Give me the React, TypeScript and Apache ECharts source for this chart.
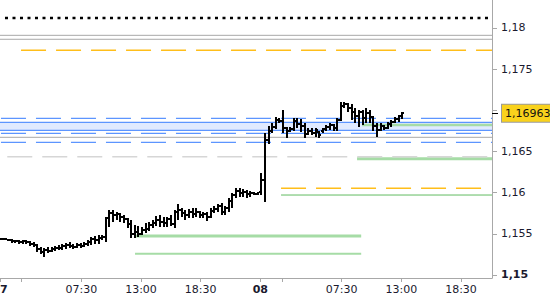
import React, { useEffect, useRef } from 'react';
import * as echarts from 'echarts';

// ---- bar data (20-minute OHLC bars, starting 07 00:00) ----
const barStepHours = 1 / 3;
const opens = [1.15447,1.15435,1.15435,1.15422,1.15410,1.15416,1.15398,1.15410,1.15398,1.15374,1.15362,1.15313,1.15277,1.15301,1.15289,1.15313,1.15325,1.15331,1.15350,1.15362,1.15350,1.15337,1.15362,1.15350,1.15374,1.15398,1.15435,1.15422,1.15447,1.15459,1.15689,1.15750,1.15726,1.15738,1.15701,1.15677,1.15617,1.15495,1.15519,1.15495,1.15544,1.15556,1.15604,1.15629,1.15665,1.15641,1.15629,1.15677,1.15617,1.15762,1.15786,1.15750,1.15726,1.15762,1.15738,1.15762,1.15726,1.15738,1.15701,1.15774,1.15799,1.15835,1.15762,1.15811,1.15896,1.15968,1.16017,1.15993,1.16005,1.15981,1.15993,1.15981,1.16005,1.16150,1.16636,1.16745,1.16794,1.16879,1.16867,1.16782,1.16745,1.16770,1.16867,1.16830,1.16806,1.16709,1.16745,1.16721,1.16733,1.16745,1.16770,1.16794,1.16818,1.16782,1.16879,1.17049,1.17073,1.17024,1.16976,1.16927,1.16976,1.16903,1.16964,1.16915,1.16806,1.16757,1.16806,1.16782,1.16830,1.16855,1.16891,1.16927];
const closes = [1.15435,1.15441,1.15422,1.15410,1.15416,1.15398,1.15410,1.15398,1.15374,1.15362,1.15313,1.15277,1.15301,1.15289,1.15313,1.15325,1.15331,1.15350,1.15362,1.15350,1.15337,1.15362,1.15350,1.15374,1.15398,1.15435,1.15422,1.15447,1.15459,1.15689,1.15750,1.15726,1.15738,1.15701,1.15677,1.15617,1.15495,1.15519,1.15495,1.15544,1.15556,1.15604,1.15629,1.15665,1.15641,1.15629,1.15677,1.15617,1.15762,1.15786,1.15750,1.15726,1.15762,1.15738,1.15762,1.15726,1.15738,1.15701,1.15774,1.15799,1.15835,1.15762,1.15811,1.15896,1.15968,1.16017,1.15993,1.16005,1.15981,1.15993,1.15981,1.16005,1.16150,1.16636,1.16745,1.16794,1.16879,1.16867,1.16782,1.16745,1.16770,1.16867,1.16830,1.16806,1.16709,1.16745,1.16721,1.16757,1.16697,1.16770,1.16794,1.16818,1.16782,1.16879,1.17049,1.17073,1.17024,1.16976,1.16927,1.16976,1.16903,1.16964,1.16915,1.16806,1.16757,1.16806,1.16782,1.16830,1.16855,1.16891,1.16927,1.16963];
const lows = [1.15422,1.15422,1.15410,1.15392,1.15386,1.15380,1.15374,1.15374,1.15356,1.15337,1.15283,1.15252,1.15222,1.15265,1.15277,1.15289,1.15301,1.15307,1.15313,1.15325,1.15313,1.15325,1.15331,1.15337,1.15350,1.15362,1.15374,1.15374,1.15422,1.15404,1.15586,1.15641,1.15665,1.15647,1.15629,1.15568,1.15447,1.15447,1.15459,1.15483,1.15507,1.15538,1.15574,1.15592,1.15586,1.15580,1.15586,1.15592,1.15574,1.15665,1.15701,1.15665,1.15689,1.15689,1.15708,1.15689,1.15689,1.15653,1.15695,1.15750,1.15768,1.15726,1.15726,1.15768,1.15811,1.15932,1.15944,1.15944,1.15932,1.15944,1.15968,1.15975,1.15968,1.15890,1.16587,1.16721,1.16776,1.16843,1.16721,1.16660,1.16739,1.16745,1.16782,1.16739,1.16666,1.16703,1.16697,1.16679,1.16660,1.16721,1.16745,1.16757,1.16745,1.16745,1.16873,1.17024,1.16976,1.16879,1.16843,1.16800,1.16818,1.16843,1.16843,1.16745,1.16679,1.16751,1.16757,1.16776,1.16794,1.16843,1.16855,1.16897];
const highs = [1.15453,1.15447,1.15441,1.15435,1.15422,1.15422,1.15422,1.15428,1.15410,1.15398,1.15374,1.15337,1.15325,1.15337,1.15344,1.15350,1.15362,1.15374,1.15386,1.15398,1.15374,1.15386,1.15386,1.15398,1.15422,1.15459,1.15471,1.15483,1.15483,1.15708,1.15786,1.15786,1.15768,1.15750,1.15726,1.15689,1.15665,1.15604,1.15592,1.15586,1.15629,1.15647,1.15665,1.15714,1.15726,1.15701,1.15708,1.15726,1.15786,1.15859,1.15811,1.15786,1.15799,1.15811,1.15811,1.15774,1.15762,1.15768,1.15811,1.15835,1.15859,1.15871,1.15835,1.15932,1.15993,1.16059,1.16053,1.16041,1.16029,1.16017,1.16005,1.16011,1.16235,1.16721,1.16806,1.16843,1.16921,1.16903,1.17000,1.16800,1.16794,1.16903,1.16903,1.16891,1.16843,1.16782,1.16782,1.16782,1.16745,1.16782,1.16818,1.16843,1.16830,1.16903,1.17103,1.17103,1.17085,1.17073,1.17024,1.17000,1.17000,1.17024,1.17000,1.16927,1.16843,1.16843,1.16818,1.16855,1.16879,1.16915,1.16939,1.16982];

const lastPrice = 1.16963;

// ---- axes ----
const xMin = 0;
const xMax = 45.36;
const yMin = 1.14963;
const yMax = 1.1834;
const xTickHours = [0, 2, 7.5, 13, 18.5, 24, 26, 31.5, 37, 42.5];
const xLabelHours = [0, 7.5, 13, 18.5, 24, 31.5, 37, 42.5];
const dayNames = ['07', '08'];
const yTickValues = [1.15, 1.155, 1.16, 1.165, 1.17, 1.175, 1.18];
const yLabelValues = [1.15, 1.155, 1.16, 1.165, 1.175, 1.18];
const boldYLabels = [1.15];

// ---- horizontal levels ----
const levelPrice = [1.18121, 1.17911, 1.17863, 1.17729, 1.16903, 1.16854, 1.16757, 1.16721, 1.16672, 1.16611, 1.16821, 1.16411, 1.16436, 1.16053, 1.15971, 1.15473, 1.15258];
const levelFrom = [0.46, 0, 0, 1.94, 0.09, 0, 0, 0.09, 0, 0.09, 33.38, 32.92, 0.67, 25.91, 25.91, 12.45, 12.45];
const levelTo = [44.99, 45.36, 45.36, 45.36, 45.36, 45.36, 45.36, 45.36, 45.36, 45.36, 45.36, 45.36, 45.36, 44.35, 45.36, 33.3, 33.3];
const zoneTop = 1.16854;
const zoneBottom = 1.16757;

const BLUE = '#5c95ff';
const GRAY = '#a8a8a8';
const ORANGE = '#ffbe1a';
const LGREEN = '#a6dca6';
const levelStyles: any[] = [
  { color: '#000', width: 2.5, type: [3, 4.5] },
  { color: GRAY, width: 1 },
  { color: GRAY, width: 1 },
  { color: ORANGE, width: 1.5, type: [25, 10] },
  { color: BLUE, width: 1.2, type: [25, 10] },
  { color: BLUE, width: 1.2 },
  { color: BLUE, width: 1.2 },
  { color: BLUE, width: 1.2, type: [25, 10] },
  { color: GRAY, width: 1 },
  { color: BLUE, width: 1.2, type: [25, 10] },
  { color: LGREEN, width: 2.5 },
  { color: LGREEN, width: 3 },
  { color: '#d6d6d6', width: 1.5, type: [25, 10] },
  { color: ORANGE, width: 1.5, type: [25, 10] },
  { color: '#62bb62', width: 1 },
  { color: LGREEN, width: 3 },
  { color: LGREEN, width: 2 },
];

const FONT = 'DejaVu Sans';
const TEXT = '#1a1a2e';

function fmtHour(v: number): string {
  const r = Math.round(v * 100) / 100;
  if (Math.abs(r % 24) < 1e-6) return '{b|' + dayNames[Math.round(r / 24)] + '}';
  const h = r % 24;
  const hh = Math.floor(h);
  const mm = Math.round((h - hh) * 60);
  return String(hh).padStart(2, '0') + ':' + String(mm).padStart(2, '0');
}

function fmtPrice(v: number): string {
  const s = String(+v.toFixed(4)).replace('.', ',');
  if (boldYLabels.some((b) => Math.abs(b - v) < 1e-7)) return '{b|' + s + '}';
  return s;
}

export default function App() {
  const ref = useRef<HTMLDivElement>(null);
  useEffect(() => {
    document.body.style.margin = '0';
    if (!ref.current) return;
    const chart = echarts.init(ref.current, undefined, { renderer: 'svg' });
    const bars = opens.map((o, i) => [i * barStepHours, o, closes[i], lows[i], highs[i]]);

    const levelSeries = levelPrice.map((p, i) => ({
      type: 'line',
      data: [[levelFrom[i], p], [levelTo[i], p]],
      symbol: 'none',
      silent: true,
      animation: false,
      lineStyle: levelStyles[i],
      z: 2,
      ...(i === 0
        ? {
            markArea: {
              silent: true,
              itemStyle: { color: '#e0eaff' },
              data: [[{ xAxis: xMin, yAxis: zoneTop }, { xAxis: xMax, yAxis: zoneBottom }]],
            },
          }
        : {}),
    }));

    chart.setOption({
      animation: false,
      grid: { left: 0, right: 58, top: 0, bottom: 22, outerBoundsMode: 'none', containLabel: false },
      xAxis: {
        type: 'value',
        min: xMin,
        max: xMax,
        axisLine: { show: true, onZero: false, lineStyle: { color: GRAY } },
        axisTick: { show: true, length: 4, customValues: xTickHours, lineStyle: { color: GRAY } },
        splitLine: { show: false },
        axisLabel: {
          customValues: xLabelHours,
          formatter: fmtHour,
          margin: 6,
          color: TEXT,
          fontFamily: FONT,
          fontSize: 11,
          rich: { b: { fontWeight: 'bold', fontFamily: FONT, fontSize: 11, color: TEXT } },
        },
      },
      yAxis: [
        {
          type: 'value',
          position: 'right',
          min: yMin,
          max: yMax,
          axisLine: { show: true, onZero: false, lineStyle: { color: GRAY } },
          axisTick: { show: true, length: 5, customValues: yTickValues, lineStyle: { color: GRAY } },
          splitLine: { show: false },
          axisLabel: {
            customValues: yLabelValues,
            formatter: fmtPrice,
            margin: 9,
            color: TEXT,
            fontFamily: FONT,
            fontSize: 11,
            rich: { b: { fontWeight: 'bold', fontFamily: FONT, fontSize: 11, color: TEXT } },
          },
        },
        {
          type: 'value',
          position: 'right',
          min: yMin,
          max: yMax,
          axisLine: { show: false, onZero: false },
          splitLine: { show: false },
          axisTick: { show: true, length: 6, customValues: [lastPrice], lineStyle: { color: '#000' } },
          axisLabel: {
            customValues: [lastPrice],
            formatter: (v: number) => v.toFixed(5).replace('.', ','),
            margin: 10,
            color: '#111',
            fontFamily: FONT,
            fontSize: 11,
            lineHeight: 13,
            padding: [2, 2, 2, 3],
            backgroundColor: '#f9d21c',
            borderColor: '#9a9a9a',
            borderWidth: 1,
          },
        },
      ],
      series: [
        ...levelSeries,
        {
          type: 'custom',
          data: bars,
          dimensions: ['t', 'open', 'close', 'low', 'high'],
          encode: { x: 0, y: [1, 2, 3, 4] },
          silent: true,
          z: 5,
          clip: true,
          renderItem: (params: any, api: any) => {
            const t = api.value(0);
            const o = api.coord([t, api.value(1)]);
            const c = api.coord([t, api.value(2)]);
            const l = api.coord([t, api.value(3)]);
            const h = api.coord([t, api.value(4)]);
            const x = Math.round(o[0]) + 1;
            const yH = Math.round(h[1]);
            const yL = Math.round(l[1]);
            const fill = { fill: '#000' };
            return {
              type: 'group',
              children: [
                { type: 'rect', shape: { x: x - 1, y: yH, width: 2, height: Math.max(1, yL - yH) }, style: fill },
                { type: 'rect', shape: { x: x - 2, y: Math.round(o[1]) - 1, width: 1, height: 2 }, style: fill },
                { type: 'rect', shape: { x: x + 1, y: Math.round(c[1]) - 1, width: 1, height: 2 }, style: fill },
              ],
            };
          },
        },
      ],
    });
    return () => chart.dispose();
  }, []);
  return <div ref={ref} style={{ width: 550, height: 300 }} />;
}
